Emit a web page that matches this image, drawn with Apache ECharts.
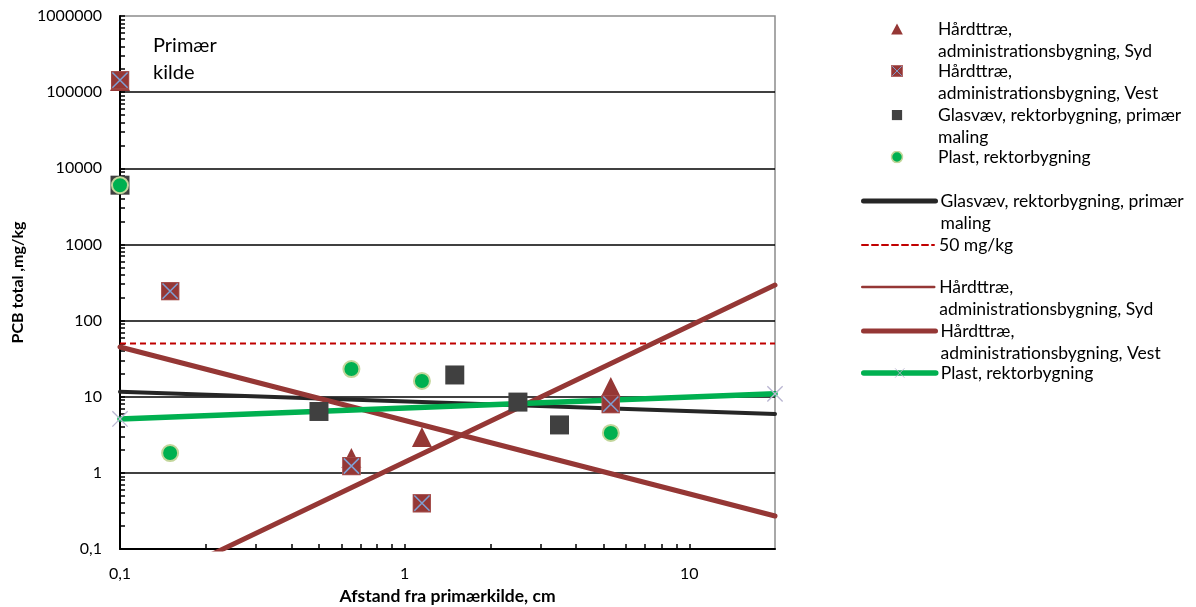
<!DOCTYPE html>
<html>
<head>
<meta charset="utf-8">
<script src="https://cdn.jsdelivr.net/npm/echarts@6/dist/echarts.min.js"></script>
<style>
  html, body { margin: 0; padding: 0; background: #fff; }
  #chart { width: 1196px; height: 607px; }
</style>
</head>
<body>
<div id="chart"></div>
<script>
// Målte PCB-koncentrationer (mg/kg) mod afstand fra primærkilden (cm)
const sydX = [0.1, 0.65, 1.15, 5.3];
const sydY = [140000, 1.57, 2.96, 13.4];

const vestX = [0.1, 0.15, 0.65, 1.15, 5.3];
const vestY = [144000, 244, 1.23, 0.4, 8];

const glasX = [0.1, 0.5, 1.5, 2.5, 3.5];
const glasY = [6000, 6.4, 19.3, 8.5, 4.26];

const plastX = [0.1, 0.15, 0.65, 1.15, 5.3];
const plastY = [6000, 1.82, 23.1, 16.1, 3.34];

// Tendenslinjer (potensfunktioner) – værdier ved linjernes endepunkter
const trendX = [0.1, 20];
const glasTrendY = [11.6, 5.93];
const limitY = [50, 50];
const sydTrendY = [0.0225, 293];
const vestTrendY = [45, 0.271];
const plastTrendY = [5.1, 10.9];

// Akser
const xMin = 0.1, xMax = 20;
const yMin = 0.1, yMax = 1000000;
const xMajor = [0.1, 1, 10];
const yMajor = [0.1, 1, 10, 100, 1000, 10000, 100000, 1000000];

const FONT = 'Lato';
const BROWN = '#953735';
const DARK = '#404040';
const GREEN = '#00B050';

// Mellemliggende logaritmiske streger (2..9 i hver dekade)
function minorTicks(majors, max) {
  const out = [];
  majors.forEach(function (m) {
    for (let k = 2; k <= 9; k++) {
      const v = +(m * k).toPrecision(6);
      if (v < max) out.push(v);
    }
  });
  return out;
}
const xTicks = xMajor.concat(minorTicks(xMajor, xMax)).sort((a, b) => a - b);
const yTicks = yMajor.concat(minorTicks(yMajor, yMax)).sort((a, b) => a - b);
// Vandrette gitterlinjer ved hver dekade (undtagen akse og øverste kant)
const yGrid = yMajor.filter(v => v > yMin && v < yMax);

function pairs(xs, ys) { return xs.map((x, i) => [x, ys[i]]); }
function comma(v) { return String(v).replace('.', ','); }

function svgSymbol(svg) {
  return 'image://data:image/svg+xml;charset=utf-8,' + encodeURIComponent(svg);
}
const SVG_HEAD = "<svg xmlns='http://www.w3.org/2000/svg' width='40' height='40' viewBox='0 0 40 40'>";
const crossedSquare = svgSymbol(SVG_HEAD +
  "<rect x='1' y='1' width='38' height='38' fill='#953735' stroke='#b0605e' stroke-width='2'/>" +
  "<path d='M4 4L36 36M36 4L4 36' stroke='#7f9fd3' stroke-width='3.2'/></svg>");
const crossMark = svgSymbol(SVG_HEAD +
  "<path d='M3 3L37 37M37 3L3 37' stroke='#bab6d2' stroke-width='3'/></svg>");
// Forklaringsikoner
const iconTriangle = svgSymbol(SVG_HEAD + "<path d='M20 3L38 37H2Z' fill='#953735'/></svg>");
const iconSquare = svgSymbol(SVG_HEAD + "<rect x='1' y='1' width='38' height='38' fill='#404040'/></svg>");
const iconCircle = svgSymbol(SVG_HEAD +
  "<circle cx='20' cy='20' r='17' fill='#00B050' stroke='#c3d69b' stroke-width='5'/></svg>");

const chart = echarts.init(document.getElementById('chart'), null, { renderer: 'canvas' });

// Forklaringens rækker: serie, tekst, midterlinje for symbolet, symbolhøjde
const LH = 22.5;
const legendRows = [
  { key: 'sydPkt',  text: 'Hårdttræ,\nadministrationsbygning, Syd',  y: 29,  ih: 13, icon: iconTriangle },
  { key: 'vestPkt', text: 'Hårdttræ,\nadministrationsbygning, Vest', y: 71,  ih: 12 },
  { key: 'glasPkt', text: 'Glasvæv, rektorbygning, primær\nmaling',  y: 115, ih: 11, icon: iconSquare },
  { key: 'plastPkt', text: 'Plast, rektorbygning',                   y: 157, ih: 13, icon: iconCircle },
  { key: 'glasTrend', text: 'Glasvæv, rektorbygning, primær\nmaling', y: 201, ih: 14, noMark: true, lw: 5 },
  { key: 'limit',   text: '50 mg/kg',                                 y: 245, ih: 14, noMark: true, lw: 2 },
  { key: 'sydTrend', text: 'Hårdttræ,\nadministrationsbygning, Syd', y: 287, ih: 14, noMark: true, lw: 2.5 },
  { key: 'vestTrend', text: 'Hårdttræ,\nadministrationsbygning, Vest', y: 331, ih: 14, noMark: true, lw: 5 },
  { key: 'plastTrend', text: 'Plast, rektorbygning',                  y: 373, ih: 14, lw: 5.5 }
];

const legends = legendRows.map(function (r) {
  const lines = r.text.split('\n').length;
  // en tom første linje lægger symbolet ud for tekstens første linje
  const label = lines === 2 ? '\n' + r.text : r.text;
  const item = { name: r.key };
  if (r.icon) item.icon = r.icon;
  const lg = {
    orient: 'vertical',
    left: 861,
    top: r.y - (lines === 2 ? 1.5 * LH : 0.5 * LH),
    padding: 0,
    itemWidth: 72,
    itemHeight: r.ih,
    selectedMode: false,
    data: [item],
    formatter: function () { return label; },
    textStyle: { fontFamily: FONT, fontSize: 17.5, color: '#000', lineHeight: LH }
  };
  if (r.noMark) lg.itemStyle = { opacity: 0 };
  if (r.lw) lg.lineStyle = { width: r.lw, cap: 'round' };
  return lg;
});

const option = {
  backgroundColor: '#fff',
  animation: false,
  textStyle: { fontFamily: FONT },
  grid: {
    left: 120, right: 421, top: 16, bottom: 58,
    containLabel: false, outerBoundsMode: 'none',
    show: true, borderColor: '#8c8c8c', borderWidth: 1.5, backgroundColor: 'transparent'
  },
  legend: legends,
  graphic: [{
    type: 'text', left: 153, top: 32,
    style: { text: 'Primær\nkilde', font: '20px ' + FONT, fill: '#000', lineHeight: 27 }
  }],
  xAxis: {
    type: 'log', logBase: 10, min: xMin, max: xMax,
    name: 'Afstand fra primærkilde, cm', nameLocation: 'middle', nameGap: 37,
    nameTextStyle: { fontFamily: FONT, fontSize: 17.5, fontWeight: 'bold', color: '#000' },
    axisLine: { show: true, lineStyle: { color: '#000', width: 2 } },
    axisTick: { show: true, inside: true, length: 5, customValues: xTicks, lineStyle: { color: '#000', width: 1.5 } },
    axisLabel: { customValues: xMajor, margin: 17, fontSize: 16, color: '#000', fontFamily: FONT, formatter: comma },
    splitLine: { show: false }
  },
  yAxis: {
    type: 'log', logBase: 10, min: yMin, max: yMax,
    name: 'PCB total ,mg/kg', nameLocation: 'middle', nameGap: 92, nameRotate: 90,
    nameTextStyle: { fontFamily: FONT, fontSize: 16, fontWeight: 'bold', color: '#000' },
    axisLine: { show: true, lineStyle: { color: '#000', width: 2 } },
    axisTick: { show: true, inside: true, length: 5, customValues: yTicks, lineStyle: { color: '#000', width: 1.5 } },
    axisLabel: { customValues: yMajor, margin: 18, fontSize: 16, color: '#000', fontFamily: FONT, formatter: comma },
    splitLine: { show: false }
  },
  series: [
    // Grænseværdi 50 mg/kg; bærer også gitterlinjerne ved hver dekade
    {
      name: 'limit', type: 'line', data: pairs(trendX, limitY),
      symbol: 'none', z: 2, clip: true,
      lineStyle: { color: '#C00000', width: 2, type: [6, 4] },
      markLine: {
        silent: true, symbol: 'none', z: 1, animation: false,
        label: { show: false },
        lineStyle: { color: '#000', width: 1.5, type: 'solid' },
        emphasis: { disabled: true },
        data: yGrid.map(v => ({ yAxis: v }))
      }
    },
    // Tendenslinjer
    {
      name: 'glasTrend', type: 'line', data: pairs(trendX, glasTrendY),
      symbol: 'none', z: 2, clip: true,
      lineStyle: { color: '#262626', width: 4, cap: 'round' }
    },
    {
      name: 'sydTrend', type: 'line', data: pairs(trendX, sydTrendY),
      symbol: 'none', z: 2, clip: true,
      lineStyle: { color: BROWN, width: 5, cap: 'round' }
    },
    {
      name: 'vestTrend', type: 'line', data: pairs(trendX, vestTrendY),
      symbol: 'none', z: 2, clip: true,
      lineStyle: { color: BROWN, width: 5, cap: 'round' }
    },
    {
      name: 'plastTrend', type: 'line', data: pairs(trendX, plastTrendY),
      symbol: crossMark, symbolSize: 18, showSymbol: true, z: 2, clip: true,
      itemStyle: { color: GREEN },
      lineStyle: { color: GREEN, width: 5.5, cap: 'round' }
    },
    // Målepunkter
    {
      name: 'sydPkt', type: 'scatter', data: pairs(sydX, sydY),
      symbol: 'triangle', symbolSize: 20, z: 3,
      itemStyle: { color: BROWN, opacity: 1 }
    },
    {
      name: 'vestPkt', type: 'scatter', data: pairs(vestX, vestY),
      symbol: crossedSquare, symbolSize: 19, z: 3,
      itemStyle: { color: BROWN, opacity: 1 }
    },
    {
      name: 'glasPkt', type: 'scatter', data: pairs(glasX, glasY),
      symbol: 'rect', symbolSize: 19, z: 3,
      itemStyle: { color: DARK, opacity: 1 }
    },
    {
      name: 'plastPkt', type: 'scatter', data: pairs(plastX, plastY),
      symbol: 'circle', symbolSize: 16, z: 3,
      itemStyle: { color: GREEN, borderColor: '#c3d69b', borderWidth: 2, opacity: 1 }
    }
  ]
};

chart.setOption(option);
</script>
</body>
</html>
